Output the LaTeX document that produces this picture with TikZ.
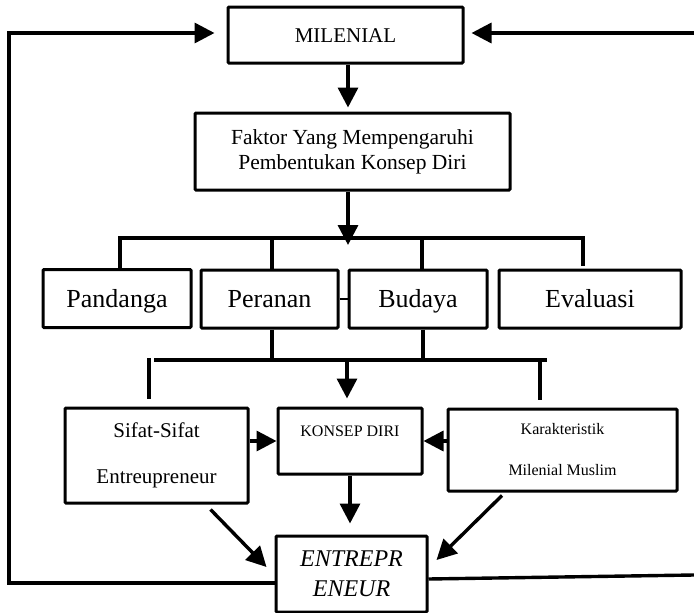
\documentclass[tikz,border=0pt]{standalone}
\usepackage{fontspec}
\setmainfont{Liberation Serif}
\usetikzlibrary{calc}
\usetikzlibrary{arrows.meta}

\begin{document}
\begin{tikzpicture}[x=1pt, y=-1pt,
	box/.style={draw, line width=3pt, inner sep=0pt, align=center, rounded corners=1pt},
	factor/.style={box, minimum height=58, text height=20pt, text depth=3pt, font=\fontsize{26}{30}\selectfont},
	link/.style={line width=3.4pt},
	arr/.style={link, -{Triangle[length=20pt, width=20pt]}}]
			\useasboundingbox (0,0) rectangle (694,613);

			\node[box, minimum width=235, minimum height=56, text height=17pt, text depth=3pt, font=\fontsize{21}{25}\selectfont] (mil) at (345.5,35) {MILENIAL};
			\node[box, minimum width=315, minimum height=77, font=\fontsize{21.5}{25}\selectfont] (fak) at (352.5,151.5) {Faktor Yang Mempengaruhi\\Pembentukan Konsep Diri};

			\node[factor, minimum width=148] (pan) at (117,298.5) {Pandanga};
			\node[factor, minimum width=137] (per) at (269.5,299) {Peranan};
			\node[factor, minimum width=138] (bud) at (418,299) {Budaya};
			\node[factor, minimum width=182] (eva) at (590,299) {Evaluasi};

			\node[box, minimum width=183, minimum height=95, font=\fontsize{21}{46}\selectfont] (sif) at (156.5,455.5) {Sifat-Sifat\\Entreupreneur};
			\node[box, minimum width=144, minimum height=66, text height=17pt, text depth=27pt, font=\fontsize{16}{20}\selectfont] (kon) at (350,441) {KONSEP DIRI};
			\node[box, minimum width=229, minimum height=82, font=\fontsize{16}{41}\selectfont] (kar) at (562.5,450) {Karakteristik\\Milenial Muslim};

			\node[box, minimum width=151, minimum height=76, font=\fontsize{24}{30}\selectfont\itshape] (ent) at (351.5,574) {ENTREPR\\ENEUR};

			%bars and corners of the feedback loop
			\coordinate (b1L) at (120,238);
			\coordinate (b1R) at (583,238);
			\coordinate (b2L) at (149,360);
			\coordinate (b2R) at (547,360);
			\coordinate (cTL) at (9,33);
			\coordinate (cBL) at (9,583);
			\coordinate (cTR) at (694,33);
			\coordinate (cBR) at (694,575);

			\draw[arr, shorten >=4pt] ([xshift=2.5]mil.south) -- ([xshift=2.5]mil.south |- fak.north);
			\draw[arr, shorten >=-7pt] ([xshift=-4.5]fak.south) -- ([xshift=-4.5]fak.south |- b1L);

			\draw[link] (b1L |- pan.north) -- (b1L) -- (b1R) -- ([yshift=3]b1R |- eva.north);
			\draw[link] ([xshift=2.5]per.north |- b1L) -- ([xshift=2.5]per.north);
			\draw[link] ([xshift=4]bud.north |- b1L) -- ([xshift=4]bud.north);
			\draw[line width=2pt] (per.east) -- (bud.west);

			\draw[link] ([xshift=2.5]per.south) -- ([xshift=2.5]per.south |- b2L);
			\draw[link] ([xshift=5]bud.south) -- ([xshift=5]bud.south |- b2L);
			\draw[link] ([xshift=5]b2L) -- (b2R);
			\draw[link, shorten >=8pt] ([yshift=2]b2L) -- (b2L |- sif.north);
			\draw[link, shorten >=8pt] ([xshift=-7]b2R) -- ([xshift=-7]b2R |- kar.north);
			\draw[arr, shorten >=8pt] ([xshift=-3]kon.north |- b2L) -- ([xshift=-3]kon.north);

			\draw[arr] (sif.east |- kon.west) -- (kon.west);
			\draw[arr] (kar.west |- kon.east) -- (kon.east);
			\draw[arr, shorten >=11pt] (kon.south) -- (kon.south |- ent.north);
			\draw[arr] ($(sif.south)+(54,5)$) -- ($(ent.west)+(-8,-7)$);
			\draw[arr] ($(kar.south)+(-60.5,3)$) -- ($(ent.east)+(8,-14)$);

			\draw[arr, line join=miter, shorten >=12pt] (ent.west |- cBL) -- (cBL) -- (cTL) -- (cTL -| mil.west);
			\draw[link] ([yshift=-5]ent.east) -- (cBR);
			\draw[arr, shorten >=7pt] (cTR) -- (cTR -| mil.east);

		\end{tikzpicture}
\end{document}
